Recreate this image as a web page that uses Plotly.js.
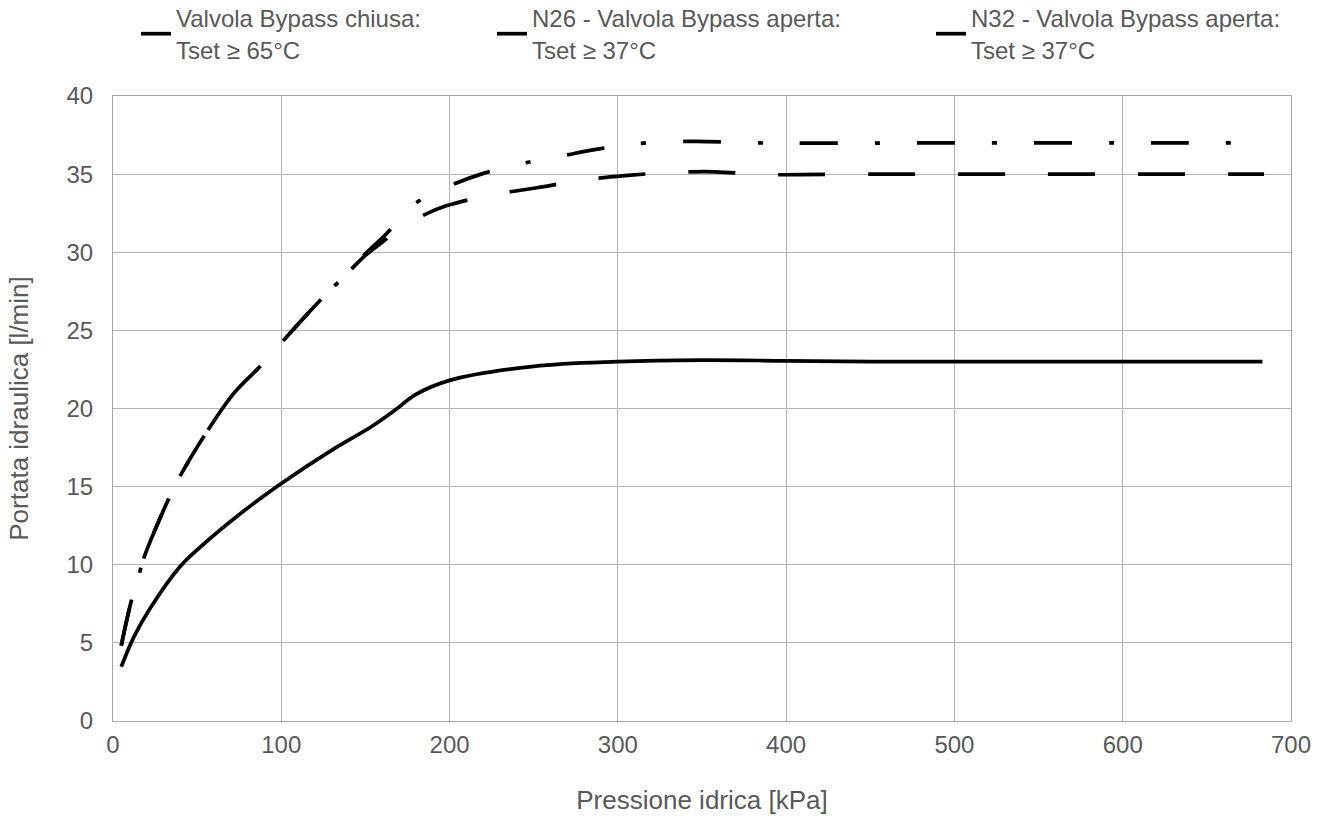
<!DOCTYPE html>
<html>
<head>
<meta charset="utf-8">
<script src="https://cdn.plot.ly/plotly-3.0.1.min.js"></script>
<style>html,body{margin:0;padding:0;background:#fff;}#chart{width:1331px;height:827px;}</style>
</head>
<body>
<div id="chart"></div>
<script>
// Series names
var seriesNames = [
  "Valvola Bypass chiusa:<br>Tset ≥ 65°C",
  "N26 - Valvola Bypass aperta:<br>Tset ≥ 37°C",
  "N32 - Valvola Bypass aperta:<br>Tset ≥ 37°C"
];

// Valvola Bypass chiusa
var xChiusa = [4.9, 12.5, 22, 40, 52, 76, 100, 131, 153, 167, 180, 200, 250, 300, 350, 400, 450, 500, 600, 683];
var yChiusa = [3.47, 5.4, 7.2, 9.9, 11.15, 13.3, 15.2, 17.4, 18.8, 19.85, 20.9, 21.8, 22.7, 23.0, 23.1, 23.05, 23.0, 23.0, 23.0, 23.0];

// N26 - Valvola Bypass aperta
var xN26 = [4.9, 10.9, 15.8, 18.4, 33, 40, 56, 72, 87, 100, 122, 141, 150, 160.7, 170, 182.5, 198, 225, 252, 278, 304, 331, 358, 384, 450, 550, 684];
var yN26 = [4.83, 7.7, 9.5, 10.45, 14.2, 15.7, 18.55, 21.0, 22.65, 24.2, 26.8, 28.85, 29.8, 30.7, 31.5, 32.27, 32.97, 33.67, 34.13, 34.6, 34.9, 35.1, 35.15, 34.98, 35.0, 35.0, 35.0];

// N32 - Valvola Bypass aperta
var xN32 = [4.9, 10.9, 15.8, 18.4, 33, 40, 56, 72, 87, 100, 122, 141, 150, 162.6, 178, 199, 221, 243, 266, 288, 310, 345, 380, 414, 500, 600, 684];
var yN32 = [4.83, 7.7, 9.5, 10.45, 14.2, 15.7, 18.55, 21.0, 22.65, 24.2, 26.8, 28.85, 29.9, 31.2, 33.0, 34.2, 35.08, 35.68, 36.15, 36.6, 36.94, 37.1, 37.0, 36.98, 37.0, 37.0, 37.0];

// Axis ticks
var xTicks = [0, 100, 200, 300, 400, 500, 600, 700];
var yTicks = [0, 5, 10, 15, 20, 25, 30, 35, 40];

var txtColor = "#595959";
var fontFam = "Liberation Sans, Arial, sans-serif";

var traces = [
  {x: xChiusa, y: yChiusa, name: seriesNames[0], mode: "lines", legend: "legend",
   line: {color: "#000", width: 3.7, shape: "spline", smoothing: 1}},
  {x: xN26, y: yN26, name: seriesNames[1], mode: "lines", legend: "legend2",
   line: {color: "#000", width: 3.7, shape: "spline", smoothing: 1, dash: "47px,43px"}},
  {x: xN32, y: yN32, name: seriesNames[2], mode: "lines", legend: "legend3",
   line: {color: "#000", width: 3.7, shape: "spline", smoothing: 1, dash: "38px,37px,5px,37px"}}
];

function leg(x) {
  return {orientation: "h", x: x, xanchor: "left", y: 1.16, yanchor: "top",
          font: {size: 24, color: txtColor}, valign: "middle",
          bgcolor: "rgba(0,0,0,0)"};
}

var layout = {
  width: 1331, height: 827,
  margin: {l: 113, r: 40, t: 96, b: 106, pad: 0, autoexpand: false},
  paper_bgcolor: "#fff", plot_bgcolor: "#fff",
  font: {family: fontFam, color: txtColor, size: 24},
  showlegend: true,
  legend: leg(0.0195),
  legend2: leg(0.3217),
  legend3: leg(0.6944),
  xaxis: {range: [0, 700], tickvals: xTicks, ticktext: xTicks.map(String),
          showgrid: true, gridcolor: "#b3b3b3", gridwidth: 1,
          showline: true, linecolor: "#a6a6a6", linewidth: 1, mirror: true,
          zeroline: false, ticks: "", ticklen: 0, ticklabelstandoff: 2,
          tickfont: {size: 24, color: txtColor},
          title: {text: "Pressione idrica [kPa]", font: {size: 26, color: txtColor}, standoff: 34}},
  yaxis: {range: [0, 40], tickvals: yTicks, ticktext: yTicks.map(String),
          showgrid: true, gridcolor: "#b3b3b3", gridwidth: 1,
          showline: true, linecolor: "#a6a6a6", linewidth: 1, mirror: true,
          zeroline: false, ticks: "", ticklen: 0, ticklabelstandoff: 14,
          tickfont: {size: 24, color: txtColor},
          title: {text: "Portata idraulica [l/min]", font: {size: 26, color: txtColor}, standoff: 30}}
};

Plotly.newPlot("chart", traces, layout, {displayModeBar: false, staticPlot: true});
</script>
</body>
</html>
